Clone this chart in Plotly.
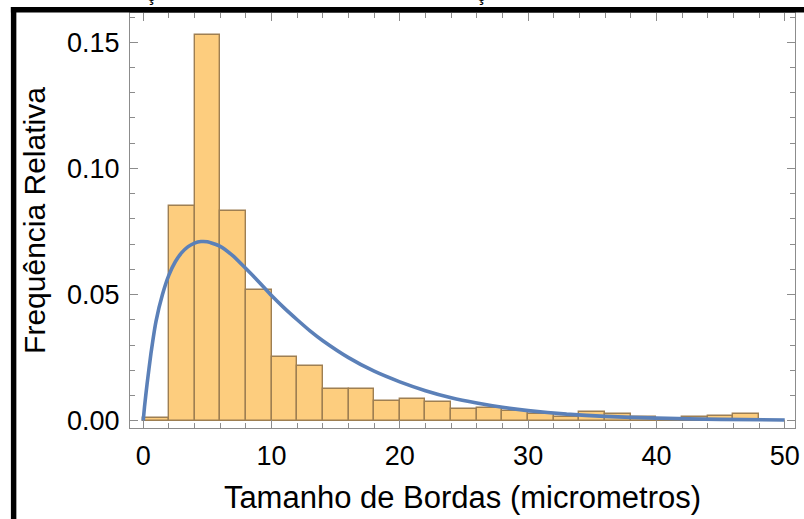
import plotly.graph_objects as go

# Histogram data (bin width 2, left edges)
bin_left = [0, 2, 4, 6, 8, 10, 12, 14, 16, 18, 20, 22, 24, 26, 28, 30, 32, 34, 36, 38, 40, 42, 44, 46]
freq = [0.001, 0.085, 0.153, 0.083, 0.0518, 0.0251, 0.0217, 0.0124, 0.0124, 0.0078,
        0.0085, 0.0074, 0.0045, 0.0050, 0.0040, 0.0027, 0.0016, 0.0034, 0.0027, 0.0013,
        0.0006, 0.0013, 0.0020, 0.0028]
bin_width = 2

# Fitted density curve
curve_x = [0, 0.1, 0.3, 0.6, 1.0, 1.5, 2.0, 2.5, 3.0, 3.5, 4.0, 4.5, 5.0, 6.0, 7.0, 8.0,
           9.0, 10.0, 11.0, 12.0, 13.0, 14.0, 16.0, 18.0, 20.0, 22.0, 24.0, 26.0, 28.0,
           30.0, 33.0, 36.0, 40.0, 45.0, 50.0]
curve_y = [0, 0.0055, 0.0145, 0.0265, 0.0395, 0.0500, 0.0577, 0.0630, 0.0666, 0.0690,
           0.0704, 0.0710, 0.0709, 0.0691, 0.0653, 0.0603, 0.0551, 0.0496, 0.0446, 0.0400,
           0.0356, 0.0317, 0.0250, 0.0196, 0.0154, 0.0119, 0.0091, 0.0070, 0.0053, 0.0040,
           0.0026, 0.0017, 0.0010, 0.0005, 0.0003]

x_ticks = [0, 10, 20, 30, 40, 50]
y_ticks = [0.0, 0.05, 0.10, 0.15]
y_tick_labels = ["0.00", "0.05", "0.10", "0.15"]

W, H = 804, 519
ML, MR, MT, MB = 130, 4, 13, 91
PW, PH = W - ML - MR, H - MT - MB

def px(xp):
    return (xp - ML) / PW

def py(yp):
    return (H - MB - yp) / PH

fig = go.Figure()
fig.add_trace(go.Bar(
    x=[b + bin_width / 2 for b in bin_left], y=freq, width=bin_width,
    marker=dict(color="#FDCD7E", line=dict(color="#9E7F52", width=1.4)),
    showlegend=False, hoverinfo="skip",
))
fig.add_trace(go.Scatter(
    x=curve_x, y=curve_y, mode="lines",
    line=dict(color="#5B80B8", width=3.6, shape="spline", smoothing=0.5),
    showlegend=False,
))

font_main = "Liberation Sans, Arial, sans-serif"
frame_color = "#8C8C8C"

fig.update_layout(
    width=W, height=H,
    margin=dict(l=ML, r=MR, t=MT, b=MB),
    paper_bgcolor="white", plot_bgcolor="white",
    bargap=0,
    font=dict(family=font_main, color="black"),
    xaxis=dict(
        range=[-1.03, 50.8], tickvals=x_ticks, ticktext=[str(v) for v in x_ticks],
        ticks="inside", ticklen=8, tickwidth=1.2, tickcolor=frame_color,
        minor=dict(dtick=2, tick0=0, ticks="inside", ticklen=5, tickwidth=1, tickcolor=frame_color),
        showline=True, linecolor=frame_color, linewidth=1.3, mirror="ticks",
        showgrid=False, zeroline=False,
        tickfont=dict(size=27, family=font_main, color="black"),
        ticklabelstandoff=3, ticklabeloverflow="allow",
        title=dict(text="Tamanho de Bordas (micrometros)", font=dict(size=31, family=font_main, color="black"), standoff=16),
    ),
    yaxis=dict(
        range=[-0.0029, 0.1616], tickvals=y_ticks, ticktext=y_tick_labels,
        ticks="inside", ticklen=8, tickwidth=1.2, tickcolor=frame_color,
        minor=dict(dtick=0.01, tick0=0, ticks="inside", ticklen=5, tickwidth=1, tickcolor=frame_color),
        showline=True, linecolor=frame_color, linewidth=1.3, mirror="ticks",
        showgrid=False, zeroline=False,
        tickfont=dict(size=27, family=font_main, color="black"),
        ticklabelstandoff=4, ticklabeloverflow="allow",
        title=dict(text="Frequência Relativa", font=dict(size=30, family=font_main, color="black"), standoff=12),
    ),
    shapes=[
        dict(type="rect", xref="paper", yref="paper", x0=px(10), x1=px(15.5), y0=py(540), y1=py(7),
             fillcolor="black", line=dict(width=0), layer="above"),
        dict(type="rect", xref="paper", yref="paper", x0=px(10), x1=px(820), y0=py(12.5), y1=py(7),
             fillcolor="black", line=dict(width=0), layer="above"),
    ],
    annotations=[
        dict(text="ç", xref="paper", yref="paper", x=px(151), y=py(7), xanchor="center", yanchor="bottom",
             showarrow=False, font=dict(size=20, family=font_main, color="black")),
        dict(text="ç", xref="paper", yref="paper", x=px(484), y=py(7), xanchor="center", yanchor="bottom",
             showarrow=False, font=dict(size=20, family=font_main, color="black")),
    ],
)

fig.write_html("out.html")
